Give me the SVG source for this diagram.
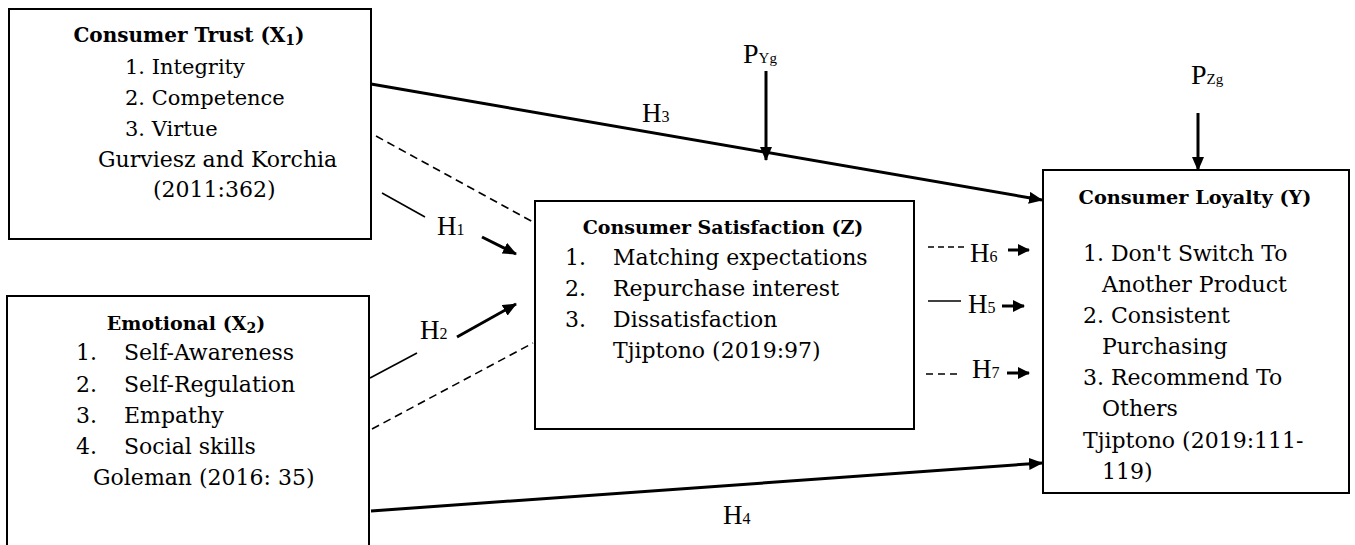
<svg xmlns="http://www.w3.org/2000/svg" width="1355" height="545" viewBox="0 0 1355 545">
<style>
  .box { fill: #ffffff; stroke: #000000; stroke-width: 2; }
  .t { font-family: "DejaVu Serif", "Liberation Serif", serif; font-size: 21px; fill: #000; }
  .b { font-weight: bold; font-size: 19px; }
  .lab { font-family: "Liberation Serif", "Times New Roman", serif; font-size: 27px; fill: #000; }
  .sub { font-size: 16px; }
  .solid { stroke: #000; stroke-width: 3; fill: none; }
  .thin { stroke: #000; stroke-width: 1.6; fill: none; }
  .dash { stroke: #000; stroke-width: 1.6; fill: none; stroke-dasharray: 8 5; }
</style>
<defs>
  <marker id="ah" viewBox="0 0 14 12" refX="13" refY="6" markerWidth="14" markerHeight="12" markerUnits="userSpaceOnUse" orient="auto">
    <path d="M0,0 L14,6 L0,12 z" fill="#000"/>
  </marker>
  <marker id="ahs" viewBox="0 0 12 12" refX="11" refY="6" markerWidth="12" markerHeight="12" markerUnits="userSpaceOnUse" orient="auto">
    <path d="M0,0 L12,6 L0,12 z" fill="#000"/>
  </marker>
</defs>
<rect width="1355" height="545" fill="#ffffff"/>

<g id="connectors">
  <!-- H3 -->
  <line class="solid" x1="371" y1="84" x2="1042" y2="200" marker-end="url(#ah)"/>
  <!-- PYg arrow -->
  <line class="solid" x1="766" y1="71" x2="766" y2="160" marker-end="url(#ah)"/>
  <!-- PZg arrow -->
  <line class="solid" x1="1198" y1="113" x2="1198" y2="170" marker-end="url(#ah)"/>
  <!-- dashed X1 -> Z -->
  <line class="dash" x1="376" y1="136" x2="533" y2="222"/>
  <!-- H1 -->
  <line class="thin" x1="382" y1="193" x2="425" y2="217"/>
  <line class="solid" x1="482" y1="237" x2="516" y2="254" marker-end="url(#ah)"/>
  <!-- H2 -->
  <line class="thin" x1="370" y1="378" x2="417" y2="353"/>
  <line class="solid" x1="457" y1="337" x2="516" y2="304" marker-end="url(#ah)"/>
  <!-- dashed X2 -> Z -->
  <line class="dash" x1="372" y1="429" x2="533" y2="343"/>
  <!-- H4 -->
  <line class="solid" x1="371" y1="511" x2="1042" y2="463" marker-end="url(#ah)"/>
  <!-- H6 -->
  <line class="dash" x1="928" y1="247" x2="968" y2="247" style="stroke-dasharray:6 4"/>
  <line class="solid" x1="1008" y1="250" x2="1029" y2="250" marker-end="url(#ahs)"/>
  <!-- H5 -->
  <line class="thin" x1="928" y1="301" x2="961" y2="301"/>
  <line class="solid" x1="1002" y1="306" x2="1024" y2="306" marker-end="url(#ahs)"/>
  <!-- H7 -->
  <line class="dash" x1="926" y1="374" x2="962" y2="374" style="stroke-dasharray:7 5"/>
  <line class="solid" x1="1007" y1="373" x2="1029" y2="373" marker-end="url(#ahs)"/>

  <!-- labels -->
  <text class="lab" x="642" y="122">H<tspan class="sub">3</tspan></text>
  <text class="lab" x="437" y="235">H<tspan class="sub">1</tspan></text>
  <text class="lab" x="420" y="339">H<tspan class="sub">2</tspan></text>
  <text class="lab" x="723" y="524">H<tspan class="sub">4</tspan></text>
  <text class="lab" x="970" y="262">H<tspan class="sub">6</tspan></text>
  <text class="lab" x="968" y="313">H<tspan class="sub">5</tspan></text>
  <text class="lab" x="972" y="378">H<tspan class="sub">7</tspan></text>
  <text class="lab" x="743" y="63" style="font-size:28px">P<tspan style="font-size:15px">Yg</tspan></text>
  <text class="lab" x="1191" y="84" style="font-size:28px">P<tspan style="font-size:15px">Zg</tspan></text>
</g>

<g id="node-x1">
  <rect class="box" x="9" y="9" width="362" height="230"/>
  <text class="t b" x="189" y="42" text-anchor="middle" style="font-size:20px">Consumer Trust (X<tspan style="font-size:14px" dy="3">1</tspan><tspan dy="-3">)</tspan></text>
  <text class="t" x="125" y="74">1. Integrity</text>
  <text class="t" x="125" y="105">2. Competence</text>
  <text class="t" x="125" y="136">3. Virtue</text>
  <text class="t" x="98" y="167" style="font-size:22px">Gurviesz and Korchia</text>
  <text class="t" x="153" y="197" style="font-size:22px">(2011:362)</text>
</g>

<g id="node-x2">
  <rect class="box" x="7" y="296" width="362" height="260"/>
  <text class="t b" x="186" y="330" text-anchor="middle">Emotional (X<tspan style="font-size:14px" dy="3">2</tspan><tspan dy="-3">)</tspan></text>
  <text class="t" style="font-size:22px" y="360"><tspan x="76">1.</tspan><tspan x="124">Self-Awareness</tspan></text>
  <text class="t" style="font-size:22px" y="392"><tspan x="76">2.</tspan><tspan x="124">Self-Regulation</tspan></text>
  <text class="t" style="font-size:22px" y="423"><tspan x="76">3.</tspan><tspan x="124">Empathy</tspan></text>
  <text class="t" style="font-size:22px" y="454"><tspan x="76">4.</tspan><tspan x="124">Social skills</tspan></text>
  <text class="t" style="font-size:22px" x="93" y="485">Goleman (2016: 35)</text>
</g>

<g id="node-z">
  <rect class="box" x="535" y="201" width="379" height="228"/>
  <text class="t b" x="723" y="234" text-anchor="middle">Consumer Satisfaction (Z)</text>
  <text class="t" style="font-size:22px" y="265"><tspan x="565">1.</tspan><tspan x="613">Matching expectations</tspan></text>
  <text class="t" style="font-size:22px" y="296"><tspan x="565">2.</tspan><tspan x="613">Repurchase interest</tspan></text>
  <text class="t" style="font-size:22px" y="327"><tspan x="565">3.</tspan><tspan x="613">Dissatisfaction</tspan></text>
  <text class="t" style="font-size:22px" x="613" y="358">Tjiptono (2019:97)</text>
</g>

<g id="node-y">
  <rect class="box" x="1043" y="170" width="306" height="323"/>
  <text class="t b" x="1195" y="204" text-anchor="middle" style="font-size:19.3px">Consumer Loyalty (Y)</text>
  <text class="t" style="font-size:22px" x="1083" y="261">1. Don't Switch To</text>
  <text class="t" style="font-size:22px" x="1102" y="292">Another Product</text>
  <text class="t" style="font-size:22px" x="1083" y="323">2. Consistent</text>
  <text class="t" style="font-size:22px" x="1102" y="354">Purchasing</text>
  <text class="t" style="font-size:22px" x="1083" y="385">3. Recommend To</text>
  <text class="t" style="font-size:22px" x="1102" y="416">Others</text>
  <text class="t" style="font-size:22px" x="1083" y="448">Tjiptono (2019:111-</text>
  <text class="t" style="font-size:22px" x="1102" y="479">119)</text>
</g>
</svg>
